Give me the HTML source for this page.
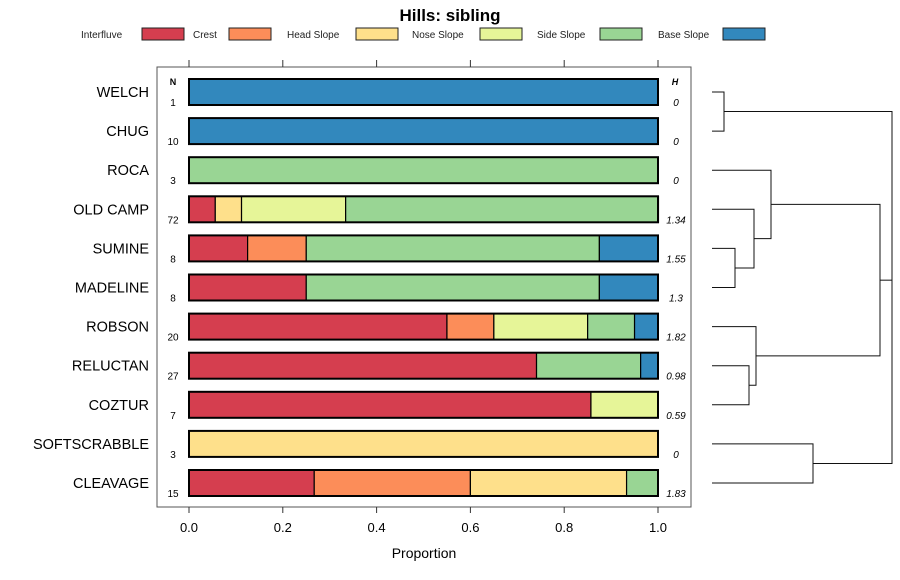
<!DOCTYPE html>
<html><head><meta charset="utf-8"><style>
body{margin:0;background:#fff}
svg{font-family:"Liberation Sans",sans-serif;display:block}
</style></head><body>
<svg id="c" width="900" height="580">
<text x="450" y="21" text-anchor="middle" font-size="17" font-weight="bold">Hills: sibling</text>
<rect x="157" y="67" width="534" height="440" fill="none" stroke="#555" stroke-width="1"/>
<text x="173" y="85" font-size="9" font-weight="bold" text-anchor="middle">N</text>
<text x="675" y="85" font-size="9" font-weight="bold" font-style="italic" text-anchor="middle">H</text>
<text x="424" y="558" font-size="14" text-anchor="middle">Proportion</text>
<g id="legend"></g><g id="axes"></g><g id="bars"></g><g id="dend"></g>
</svg>
<script>
const classes=["Interfluve","Crest","Head Slope","Nose Slope","Side Slope","Base Slope"];
const colors=["#D53E4F","#FC8D59","#FEE08B","#E6F598","#99D594","#3288BD"];
const hills=["WELCH","CHUG","ROCA","OLD CAMP","SUMINE","MADELINE","ROBSON","RELUCTAN","COZTUR","SOFTSCRABBLE","CLEAVAGE"];
const nVals=[1,10,3,72,8,8,20,27,7,3,15];
const hVals=["0","0","0","1.34","1.55","1.3","1.82","0.98","0.59","0","1.83"];
const interfluve=[0,0,0,0.056,0.125,0.25,0.55,0.741,0.857,0,0.267];
const crest=[0,0,0,0,0.125,0,0.10,0,0,0,0.333];
const headSlope=[0,0,0,0.056,0,0,0,0,0,1,0.333];
const noseSlope=[0,0,0,0.222,0,0,0.20,0,0.143,0,0];
const sideSlope=[0,0,1,0.667,0.625,0.625,0.10,0.222,0,0,0.067];
const baseSlope=[1,1,0,0,0.125,0.125,0.05,0.037,0,0,0];
const xTicks=[0,0.2,0.4,0.6,0.8,1.0];
const tickLabels=["0.0","0.2","0.4","0.6","0.8","1.0"];
const series=[interfluve,crest,headSlope,noseSlope,sideSlope,baseSlope];
const NS="http://www.w3.org/2000/svg";
function el(t,a,p){const e=document.createElementNS(NS,t);for(const k in a)e.setAttribute(k,a[k]);p.appendChild(e);return e;}
const xS=v=>189+v*469;
const yS=i=>92+i*39.1;
// legend
const lg=document.getElementById('legend');
const legX=[81,193,287,412,537,658];
const swX=[142,229,356,480,600,723];
classes.forEach((c,i)=>{
 const t=el('text',{x:legX[i],y:38,'font-size':10,fill:'#222'},lg);t.textContent=c;
 
 
 const r=el('rect',{x:swX[i],y:28,width:42,height:12,fill:colors[i],stroke:'#222','stroke-width':1},lg);
 
 
});
// axes
const ax=document.getElementById('axes');
xTicks.forEach((v,i)=>{
 const x=xS(v);
 el('line',{x1:x,x2:x,y1:507,y2:513,stroke:'#333'},ax);
 el('line',{x1:x,x2:x,y1:60,y2:67,stroke:'#333'},ax);
 const t=el('text',{x:x,y:532,'font-size':13,'text-anchor':'middle'},ax);t.textContent=tickLabels[i];
 
 
});
// bars
const bg=document.getElementById('bars');
hills.forEach((h,i)=>{
 const y=yS(i);
 const lab=el('text',{x:149,y:y+5,'font-size':14.5,'text-anchor':'end'},bg);lab.textContent=h;
 
 
 const n=el('text',{x:173,y:y+14,'font-size':10,'text-anchor':'middle'},bg);n.textContent=nVals[i];
 
 
 const hv=el('text',{x:676,y:y+14,'font-size':10,'font-style':'italic','text-anchor':'middle'},bg);hv.textContent=hVals[i];
 
 
 let cum=0;
 series.forEach((s,k)=>{
  if(s[i]<=0)return;
  const r=el('rect',{x:xS(cum),y:y-13,width:xS(cum+s[i])-xS(cum),height:26,fill:colors[k],stroke:'#000','stroke-width':1.2},bg);
  
  
  cum+=s[i];
 });
 const o=el('rect',{x:xS(0),y:y-13,width:xS(1)-xS(0),height:26,fill:'none',stroke:'#000','stroke-width':2},bg);
 
 
});
// dendrogram
const dg=document.getElementById('dend');
function seg(pts){const p=el('polyline',{points:pts.map(q=>q.join(',')).join(' '),fill:'none',stroke:'#111','stroke-width':1},dg);
 
 }
const L=712;
const Y=i=>yS(i);
function join(y1,x1,y2,x2,xj){seg([[x1,y1],[xj,y1],[xj,y2],[x2,y2]]);return (y1+y2)/2;}
const a=join(Y(0),L,Y(1),L,724);
const b=join(Y(4),L,Y(5),L,735);
const c=join(Y(3),L,b,735,754);
const d=join(Y(2),L,c,754,771);
const e=join(Y(7),L,Y(8),L,749);
const f=join(Y(6),L,e,749,756);
const g=join(d,771,f,756,880);
const h=join(Y(9),L,Y(10),L,813);
seg([[724,a],[892,a],[892,h],[813,h]]);
seg([[880,g],[892,g]]);
</script>
</body></html>
